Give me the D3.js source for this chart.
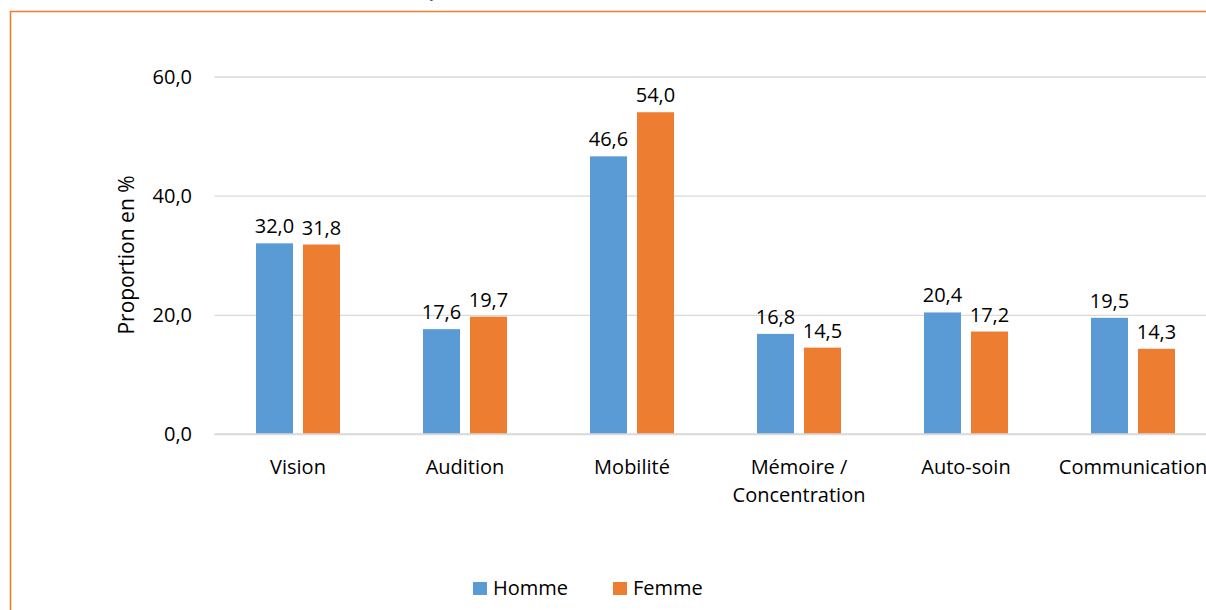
<!DOCTYPE html>
<meta charset="utf-8">
<style>
body { margin: 0; background: #fff; }
svg { display: block; font-family: "Open Sans", "Noto Sans", sans-serif; }
.grid line { stroke: #d9d9d9; stroke-width: 1.3px; }
.grid path { display: none; }
</style>
<svg width="1206" height="610"></svg>

<script src="https://cdn.jsdelivr.net/npm/d3@7/dist/d3.min.js"></script>
<script>

var categories = ["Vision", "Audition", "Mobilité", "Mémoire /\nConcentration", "Auto-soin", "Communication"];
var homme = [32.0, 17.6, 46.6, 16.8, 20.4, 19.5];
var femme = [31.8, 19.7, 54.0, 14.5, 17.2, 14.3];
var seriesNames = ["Homme", "Femme"];
var yTicks = [0, 20, 40, 60];

var colors = ["#5b9bd5", "#ed7d31"];

var svg = d3.select("svg"),
    width = +svg.attr("width"),
    height = +svg.attr("height");

var left = 214.5, bandW = 167, baseY = 434, topY = 76.5;
var fs = 20;

// orange frame (top + left)
svg.append("path")
    .attr("d", "M10.5,610 L10.5,11.5 L1206,11.5")
    .attr("fill", "none")
    .attr("stroke", "#ed7d31")
    .attr("stroke-width", 1.6);

// bit of the title that shows above the frame
svg.append("text")
    .attr("x", 429).attr("y", -2)
    .attr("fill", "#0070c0")
    .attr("font-weight", "bold")
    .attr("font-size", 15)
    .text("p");

var x = d3.scaleBand()
    .domain(categories)
    .range([left, left + bandW * categories.length])
    .paddingInner(0)
    .paddingOuter(0);

var y = d3.scaleLinear().domain([0, 60]).range([baseY, topY]);

var barW = 37, gap = 10;

// gridlines
svg.append("g")
    .attr("class", "grid")
    .attr("transform", "translate(" + left + ",0)")
    .call(d3.axisLeft(y).tickValues(yTicks).tickSize(-(width - left)).tickFormat(""));

var fmt = function(v) { return d3.format(".1f")(v).replace(".", ","); };

// y tick labels
svg.append("g").selectAll("text")
    .data(yTicks)
    .enter().append("text")
    .attr("x", 192)
    .attr("y", function(d) { return y(d) + 7; })
    .attr("text-anchor", "end")
    .attr("font-size", fs)
    .text(fmt);

// y title
svg.append("text")
    .attr("transform", "translate(134,255) rotate(-90)")
    .attr("text-anchor", "middle")
    .attr("font-size", 21)
    .text("Proportion en %");

[homme, femme].forEach(function(vals, s) {
  var g = svg.append("g");
  var bx = function(d, i) {
    var c = x(categories[i]) + x.bandwidth() / 2;
    return s === 0 ? c - gap / 2 - barW : c + gap / 2;
  };
  g.selectAll("rect")
    .data(vals)
    .enter().append("rect")
    .attr("x", bx)
    .attr("y", function(d) { return y(d); })
    .attr("width", barW)
    .attr("height", function(d) { return baseY - y(d); })
    .attr("fill", colors[s]);
  g.selectAll("text")
    .data(vals)
    .enter().append("text")
    .attr("x", function(d, i) { return bx(d, i) + barW / 2; })
    .attr("y", function(d) { return y(d) - 10; })
    .attr("text-anchor", "middle")
    .attr("font-size", fs)
    .text(fmt);
});

// baseline
svg.append("line")
    .attr("x1", left).attr("x2", width)
    .attr("y1", baseY).attr("y2", baseY)
    .attr("stroke", "#d9d9d9").attr("stroke-width", 1.5);

// category labels
var cat = svg.append("g").selectAll("text")
    .data(categories)
    .enter().append("text")
    .attr("text-anchor", "middle")
    .attr("font-size", fs)
    .attr("x", function(d) { return x(d) + x.bandwidth() / 2; })
    .attr("y", 474);
cat.each(function(d) {
  var t = d3.select(this);
  d.split("\n").forEach(function(line, i) {
    t.append("tspan")
      .attr("x", t.attr("x"))
      .attr("dy", i === 0 ? 0 : 28)
      .text(line);
  });
});

// legend
var legX = [473, 613];
var leg = svg.append("g").selectAll("g")
    .data(seriesNames)
    .enter().append("g")
    .attr("transform", function(d, i) { return "translate(" + legX[i] + ",582)"; });
leg.append("rect")
    .attr("width", 14).attr("height", 13)
    .attr("fill", function(d, i) { return colors[i]; });
leg.append("text")
    .attr("x", 20).attr("y", 13)
    .attr("font-size", fs)
    .text(function(d) { return d; });

</script>
